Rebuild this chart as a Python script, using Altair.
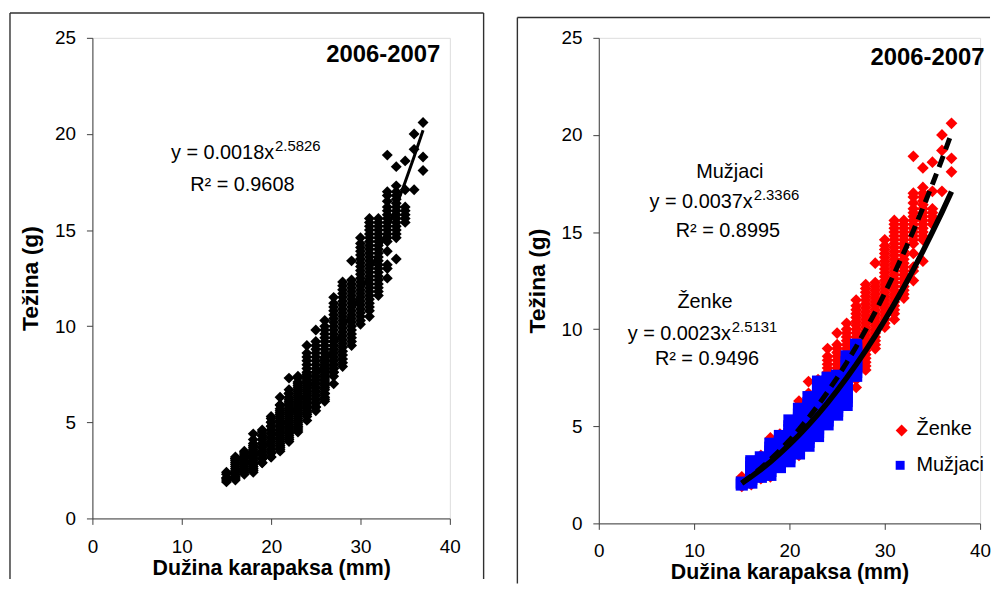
import altair as alt
import pandas as pd

FONT = "Liberation Sans"
AX = "#404040"
BORDER = "#303030"

TITLE = "2006-2007"
X_TITLE = "Dužina karapaksa (mm)"
Y_TITLE = "Težina (g)"
GROUP_Z = "Ženke"
GROUP_M = "Mužjaci"

x_ticks = [0, 10, 20, 30, 40]
y_ticks = [0, 5, 10, 15, 20, 25]

# carapace length (mm) -> weights (g)
zenke = {
    15: [1.9, 2.1, 2.3, 2.4],
    16: [2.0, 2.2, 2.4, 2.6, 2.8, 3.0, 3.1],
    17: [2.3, 2.5, 2.7, 2.9, 3.1, 3.3, 3.5],
    18: [2.4, 2.6, 2.8, 3.0, 3.2, 3.4, 3.6, 3.8, 4.4],
    19: [2.9, 3.1, 3.3, 3.5, 3.7, 3.9, 4.1, 4.3, 4.6],
    20: [3.2, 3.4, 3.6, 3.8, 4.0, 4.2, 4.4, 4.6, 4.8, 5.0, 5.2],
    21: [3.5, 3.7, 3.9, 4.1, 4.3, 4.5, 4.7, 4.9, 5.1, 5.3, 5.5, 5.7, 5.9, 6.3],
    22: [4.1, 4.3, 4.5, 4.7, 4.9, 5.1, 5.3, 5.5, 5.7, 5.9, 6.1, 6.3, 6.5, 6.7, 7.3],
    23: [4.6, 4.8, 5.0, 5.2, 5.4, 5.6, 5.8, 6.0, 6.2, 6.4, 6.6, 6.8, 7.0, 7.4],
    24: [5.4, 5.6, 5.8, 6.0, 6.2, 6.4, 6.6, 6.8, 7.0, 7.2, 7.4, 7.6, 7.8, 8.0, 8.2,
         8.4, 8.6, 9.0],
    25: [5.8, 6.0, 6.2, 6.4, 6.6, 6.8, 7.0, 7.2, 7.4, 7.6, 7.8, 8.0, 8.2, 8.4, 8.6,
         8.8, 9.0, 9.2, 9.8],
    26: [6.2, 6.5, 6.8, 7.0, 7.2, 7.4, 7.6, 7.8, 8.0, 8.2, 8.4, 8.6, 8.8, 9.0, 9.2,
         9.4, 9.6, 9.8, 10.0, 10.3],
    27: [7.0, 7.4, 7.6, 7.8, 8.0, 8.2, 8.4, 8.6, 8.8, 9.0, 9.2, 9.4, 9.6, 9.8, 10.0,
         10.2, 10.4, 10.6, 10.8, 11.0, 11.2, 11.5],
    28: [7.9, 8.1, 8.3, 8.5, 8.7, 8.9, 9.1, 9.3, 9.5, 9.7, 9.9, 10.1, 10.3, 10.5, 10.7,
         10.9, 11.1, 11.3, 11.5, 11.7, 11.9, 12.1, 12.3],
    29: [9.0, 9.2, 9.4, 9.6, 9.8, 10.0, 10.2, 10.4, 10.6, 10.8, 11.0, 11.2, 11.4, 11.6,
         11.8, 12.0, 12.2, 12.4, 13.4],
    30: [10.1, 10.3, 10.5, 10.7, 10.9, 11.1, 11.3, 11.5, 11.7, 11.9, 12.1, 12.3, 12.5,
         12.7, 12.9, 13.1, 13.3, 13.5, 13.7, 13.9, 14.1, 14.3, 14.6],
    31: [10.5, 10.8, 11.0, 11.2, 11.4, 11.6, 11.8, 12.0, 12.2, 12.4, 12.6, 12.8, 13.0,
         13.2, 13.4, 13.6, 13.8, 14.0, 14.2, 14.4, 14.6, 14.8, 15.0, 15.2, 15.4, 15.6],
    32: [11.6, 11.8, 12.0, 12.2, 12.4, 12.6, 12.8, 13.0, 13.2, 13.4, 13.6, 13.8, 14.0,
         14.2, 14.4, 14.6, 14.8, 15.0, 15.2, 15.4, 15.6],
    33: [12.5, 13.0, 13.2, 13.9, 14.4, 14.6, 14.8, 15.0, 15.2, 15.4, 15.6, 15.8, 16.0,
         16.2, 16.5, 16.8, 17.0, 18.9],
    34: [13.5, 14.6, 14.8, 15.0, 15.2, 15.4, 15.6, 15.8, 16.0, 16.2, 16.4, 16.6, 16.8,
         17.0, 17.3, 18.3],
    35: [15.4, 15.6, 15.8, 16.0, 16.2, 17.1, 18.6],
    36: [17.1, 19.2, 20.0],
    37: [18.1, 18.8, 20.6],
}
muzjaci = {
    15: [2.0, 2.1],
    16: [2.1, 2.3, 2.5, 2.7, 2.9, 3.1, 3.2],
    17: [2.4, 2.6, 2.8, 3.0, 3.2, 3.4],
    18: [2.5, 2.7, 2.9, 3.1, 3.3, 3.5, 3.7, 3.9, 4.1],
    19: [2.9, 3.1, 3.3, 3.5, 3.7, 3.9, 4.1, 4.3, 4.5],
    20: [3.2, 3.4, 3.6, 3.8, 4.0, 4.2, 4.4, 4.6, 4.8, 5.0, 5.3],
    21: [3.6, 3.8, 4.0, 4.2, 4.4, 4.6, 4.8, 5.0, 5.2, 5.4, 5.6, 5.9],
    22: [4.0, 4.2, 4.4, 4.6, 4.8, 5.0, 5.2, 5.4, 5.6, 5.8, 6.0, 6.2, 6.5],
    23: [4.5, 4.7, 4.9, 5.1, 5.3, 5.5, 5.7, 5.9, 6.1, 6.3, 6.5, 6.7, 6.9, 7.1, 7.3],
    24: [5.1, 5.3, 5.5, 5.7, 5.9, 6.1, 6.3, 6.5, 6.7, 6.9, 7.1, 7.3, 7.5],
    25: [5.6, 5.8, 6.0, 6.2, 6.4, 6.6, 6.8, 7.0, 7.2, 7.4, 7.6],
    26: [6.1, 6.3, 6.5, 6.7, 6.9, 7.1, 7.3, 7.5, 7.7, 7.9, 8.1, 8.3, 8.6],
    27: [7.6, 7.8, 8.0, 8.2, 8.4, 8.6, 8.8, 9.0, 9.2],
}

# fitted power curves printed on the chart
curve_len = [15, 16, 17, 18, 19, 20, 21, 22, 23, 24, 25, 26,
             27, 28, 29, 30, 31, 32, 33, 34, 35, 36, 37]
fit_sve = {"a": "0.0018", "b": "2.5826", "r2": "0.9608"}
fit_zenke = {"a": "0.0023", "b": "2.5131", "r2": "0.9496"}
fit_muzjaci = {"a": "0.0037", "b": "2.3366", "r2": "0.8995"}


def to_df(d, group):
    rows = [{"len": x, "wt": y, "group": group} for x, ys in d.items() for y in ys]
    return pd.DataFrame(rows)


df_z = to_df(zenke, GROUP_Z)
df_m = to_df(muzjaci, GROUP_M)
df_all = pd.concat([df_z, df_m], ignore_index=True)
df_curve = pd.DataFrame({"len": curve_len})
one = pd.DataFrame({"k": [0]})


def x_enc(width, label_pad, title_y):
    return alt.X("len:Q", scale=alt.Scale(domain=[0, 40], nice=False, zero=True),
                 axis=alt.Axis(values=x_ticks, title=X_TITLE, grid=False, tickSize=6,
                               tickColor=AX, domainColor=AX, labelFont=FONT, labelFontSize=19,
                               labelColor="black", labelPadding=label_pad,
                               labelBaseline="middle",
                               labelFlush=False, labelOverlap=False,
                               titleFont=FONT, titleFontSize=21.5, titleFontWeight="bold",
                               titleColor="black", titleX=width / 2, titleY=title_y,
                               titleBaseline="middle", titleAlign="center"))


def y_enc(height):
    return alt.Y("wt:Q", scale=alt.Scale(domain=[0, 25], nice=False, zero=True),
                 axis=alt.Axis(values=y_ticks, title=Y_TITLE, grid=False, tickSize=6,
                               tickColor=AX, domainColor=AX, labelFont=FONT, labelFontSize=19,
                               labelColor="black", labelPadding=11, labelFlush=False,
                               labelOverlap=False,
                               titleFont=FONT, titleFontSize=23, titleFontWeight="bold",
                               titleColor="black", titleX=-62, titleY=height / 2,
                               titleAngle=270, titleBaseline="middle", titleAlign="center"))


def txt(s, x, y, size=20, weight="normal", align="center"):
    return alt.Chart(pd.DataFrame({"t": [s]})).mark_text(
        font=FONT, fontSize=size, fontWeight=weight, align=align, baseline="middle",
        color="black").encode(text="t:N", x=alt.value(x), y=alt.value(y))


def hrule(x1, x2, y):
    return alt.Chart(one).mark_rule(color=BORDER, strokeWidth=1.4).encode(
        x=alt.value(x1), x2=alt.value(x2), y=alt.value(y))


def vrule(x, y1, y2):
    return alt.Chart(one).mark_rule(color=BORDER, strokeWidth=1.4).encode(
        x=alt.value(x), y=alt.value(y1), y2=alt.value(y2))


def curve(fit, xe, ye, **kw):
    return alt.Chart(df_curve).transform_calculate(
        wt=f"{fit['a']} * pow(datum.len, {fit['b']})"
    ).mark_line(color="black", **kw).encode(x=xe, y=ye)


# ---------- left panel ----------
LW, LH = 360, 484
xl, yl = x_enc(LW, 22, 50), y_enc(LH)
left = alt.layer(
    hrule(-83, 394, -25),
    vrule(-83, -25, 545),
    vrule(394, -25, 545),
    alt.Chart(df_all).mark_point(shape="diamond", filled=True, size=121, color="black",
                                 opacity=1).encode(x=xl, y=yl),
    curve(fit_sve, xl, yl, strokeWidth=3),
    txt(TITLE, 293, 17, size=24, weight="bold"),
    txt(f"y = {fit_sve['a']}x", 183, 116.5, align="right"),
    txt(fit_sve["b"], 184, 109, size=15, align="left"),
    txt(f"R² = {fit_sve['r2']}", 151, 148),
).properties(width=LW, height=LH)

# ---------- right panel ----------
RW, RH = 384, 489
xr, yr = x_enc(RW, 21.5, 49.5), y_enc(RH)
right = alt.layer(
    hrule(-82, 394, -20.5),
    vrule(-82, -20.5, 549.5),
    alt.Chart(df_z).mark_point(shape="diamond", filled=True, size=140, color="#FF0000",
                               opacity=1).encode(x=xr, y=yr),
    alt.Chart(df_m).mark_point(shape="square", filled=True, size=150, color="#0000FF",
                               opacity=1).encode(x=xr, y=yr),
    curve(fit_zenke, xr, yr, strokeWidth=5, strokeDash=[12, 7]),
    curve(fit_muzjaci, xr, yr, strokeWidth=5.5),
    txt(TITLE, 331, 20, size=24, weight="bold"),
    txt(GROUP_M, 132, 135.5),
    txt(f"y = {fit_muzjaci['a']}x", 155, 165.5, align="right"),
    txt(fit_muzjaci["b"], 156, 158, size=15, align="left"),
    txt(f"R² = {fit_muzjaci['r2']}", 130, 194.5),
    txt(GROUP_Z, 107, 266),
    txt(f"y = {fit_zenke['a']}x", 133, 298.5, align="right"),
    txt(fit_zenke["b"], 134, 291, size=15, align="left"),
    txt(f"R² = {fit_zenke['r2']}", 109, 323),
    alt.Chart(one).mark_point(shape="diamond", filled=True, size=144, color="#FF0000",
                              opacity=1).encode(x=alt.value(305), y=alt.value(395.5)),
    alt.Chart(one).mark_point(shape="square", filled=True, size=81, color="#0000FF",
                              opacity=1).encode(x=alt.value(303.5), y=alt.value(430.5)),
    txt(GROUP_Z, 320, 394, align="left"),
    txt(GROUP_M, 320, 430, align="left"),
).properties(width=RW, height=RH)

chart = alt.concat(left, right, columns=2, spacing=30, align="none").properties(
    padding={"left": 0, "top": 1, "right": 0, "bottom": 0}
).configure_view(stroke=None).configure(font=FONT)

chart.save("out.html", embed_options={"renderer": "svg", "actions": False})
